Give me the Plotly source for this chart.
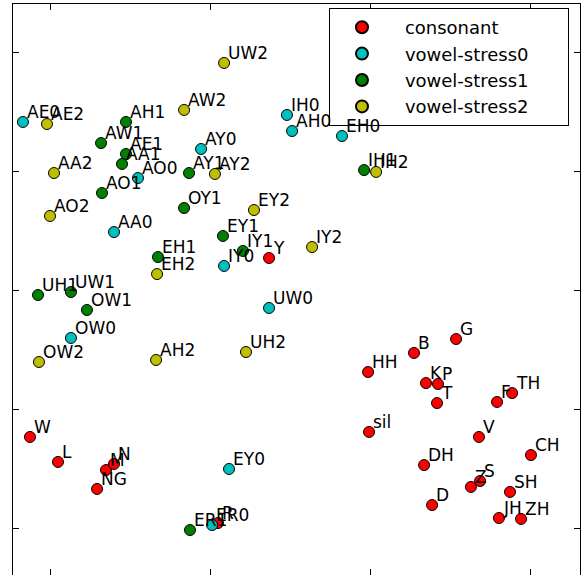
import plotly.graph_objects as go

# ---- data (arbitrary embedding units) ----
consonant_labels = ["W", "L", "M", "N", "NG", "Y", "HH", "B", "G", "K", "P", "T", "F", "TH",
                    "sil", "V", "CH", "DH", "Z", "S", "SH", "D", "JH", "ZH", "R"]
consonant_x = [-0.125, 0.05, 0.35, 0.40, 0.294, 1.369, 1.988, 2.275, 2.538, 2.35, 2.425, 2.419, 2.794, 2.888,
               1.994, 2.681, 3.006, 2.338, 2.631, 2.688, 2.875, 2.388, 2.806, 2.944, 1.05]
consonant_y = [0.765, 0.555, 0.487, 0.538, 0.328, 2.269, 1.311, 1.471, 1.588, 1.218, 1.21, 1.05, 1.059, 1.134,
               0.807, 0.765, 0.613, 0.529, 0.345, 0.395, 0.303, 0.193, 0.084, 0.076, 0.042]

stress0_labels = ["AE0", "IH0", "AH0", "EH0", "AY0", "AO0", "AA0", "IY0", "UW0", "OW0", "EY0", "ER0"]
stress0_x = [-0.169, 1.481, 1.513, 1.825, 0.944, 0.55, 0.40, 1.088, 1.369, 0.131, 1.119, 1.013]
stress0_y = [3.412, 3.471, 3.336, 3.294, 3.185, 2.941, 2.487, 2.202, 1.849, 1.597, 0.496, 0.025]

stress1_labels = ["AH1", "AW1", "AE1", "AA1", "AY1", "IH1", "AO1", "OY1", "EY1", "IY1", "EH1",
                  "UH1", "UW1", "OW1", "ER1"]
stress1_x = [0.475, 0.319, 0.475, 0.45, 0.869, 1.963, 0.325, 0.838, 1.081, 1.206, 0.675,
             -0.075, 0.131, 0.231, 0.875]
stress1_y = [3.412, 3.235, 3.143, 3.059, 2.983, 3.008, 2.815, 2.689, 2.454, 2.328, 2.277,
             1.958, 1.983, 1.832, -0.017]

stress2_labels = ["UW2", "AW2", "AE2", "AA2", "AY2", "IH2", "AO2", "EY2", "IY2", "EH2", "OW2", "AH2", "UH2"]
stress2_x = [1.088, 0.838, -0.019, 0.025, 1.031, 2.038, 0.0, 1.275, 1.638, 0.669, -0.069, 0.663, 1.225]
stress2_y = [3.908, 3.513, 3.395, 2.983, 2.975, 2.992, 2.622, 2.672, 2.361, 2.134, 1.395, 1.412, 1.479]

series_names = ["consonant", "vowel-stress0", "vowel-stress1", "vowel-stress2"]
series_colors = ["#FF0000", "#00BFBF", "#008000", "#BFBF00"]

groups = [
    (consonant_x, consonant_y, consonant_labels),
    (stress0_x, stress0_y, stress0_labels),
    (stress1_x, stress1_y, stress1_labels),
    (stress2_x, stress2_y, stress2_labels),
]

FONT = "DejaVu Sans"
NB = "\u00a0"
fig = go.Figure()
annotations = []
for (xs, ys, labs), name, color in zip(groups, series_names, series_colors):
    fig.add_trace(go.Scatter(
        x=xs, y=ys, mode="markers", name=NB * 4 + name + NB * 6,
        marker=dict(size=11, color=color, line=dict(color="black", width=1)),
        hoverinfo="text", text=labs,
    ))
    for x, y, t in zip(xs, ys, labs):
        annotations.append(dict(
            x=x, y=y, xref="x", yref="y", text=t, showarrow=False,
            xanchor="left", yanchor="bottom", xshift=2, yshift=-2,
            font=dict(family=FONT, size=17, color="black"),
        ))

axis_common = dict(
    showline=True, linecolor="black", linewidth=1, mirror="ticks",
    ticks="inside", ticklen=6, tickcolor="black", showticklabels=False,
    showgrid=False, zeroline=False, dtick=1, tick0=0,
)

fig.update_layout(
    width=587, height=575,
    margin=dict(l=13, r=7, t=4, b=0),
    paper_bgcolor="white", plot_bgcolor="white",
    xaxis=dict(range=[-0.23125, 3.3125], **axis_common),
    yaxis=dict(range=[-0.395, 4.4034], **axis_common),
    annotations=annotations,
    showlegend=True,
    legend=dict(
        x=0.5573, y=0.993, xanchor="left", yanchor="top",
        bgcolor="white", bordercolor="black", borderwidth=1,
        font=dict(family=FONT, size=18, color="black"),
        itemsizing="constant", indentation=12,
    ),
    font=dict(family=FONT),
)

fig.write_html("out.html", config={"displayModeBar": False},
               post_script="document.body.style.margin='0';")
